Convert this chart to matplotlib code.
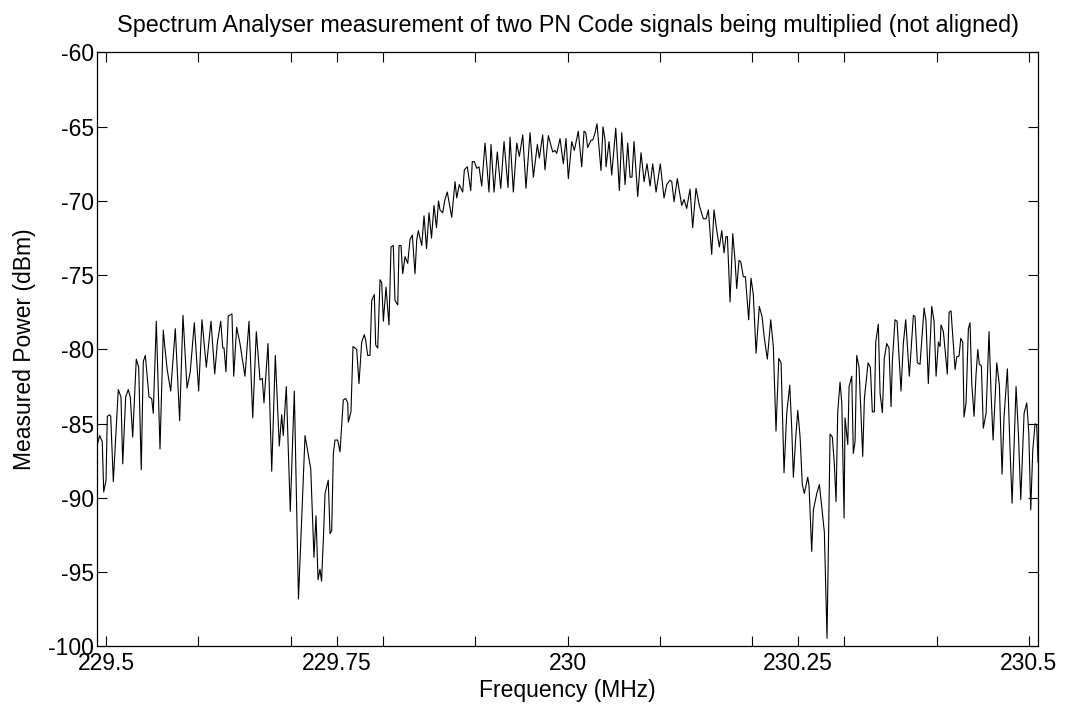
import matplotlib
matplotlib.use("Agg")
import matplotlib.pyplot as plt

plt.rcParams['font.family'] = ['Liberation Sans', 'DejaVu Sans']

# trace vertices
freq_mhz = [
    229.4900, 229.4929, 229.4957, 229.4973, 229.4998, 229.5012, 229.5038, 229.5049, 229.5077, 229.5131,
    229.5160, 229.5179, 229.5211, 229.5239, 229.5261, 229.5287, 229.5326, 229.5352, 229.5380, 229.5402,
    229.5424, 229.5464, 229.5493, 229.5510, 229.5543, 229.5583, 229.5619, 229.5630, 229.5662, 229.5699,
    229.5749, 229.5796, 229.5832, 229.5876, 229.5911, 229.5955, 229.6002, 229.6038, 229.6085, 229.6136,
    229.6176, 229.6204, 229.6241, 229.6263, 229.6277, 229.6298, 229.6323, 229.6363, 229.6382, 229.6414,
    229.6450, 229.6504, 229.6548, 229.6588, 229.6627, 229.6667, 229.6692, 229.6710, 229.6754, 229.6794,
    229.6833, 229.6876, 229.6902, 229.6919, 229.6952, 229.6995, 229.7039, 229.7084, 229.7155, 229.7217,
    229.7252, 229.7274, 229.7296, 229.7317, 229.7334, 229.7355, 229.7372, 229.7407, 229.7426, 229.7444,
    229.7462, 229.7480, 229.7509, 229.7534, 229.7570, 229.7596, 229.7618, 229.7624, 229.7653, 229.7675,
    229.7715, 229.7740, 229.7769, 229.7798, 229.7813, 229.7834, 229.7859, 229.7878, 229.7906, 229.7921,
    229.7943, 229.7968, 229.7986, 229.8004, 229.8033, 229.8065, 229.8087, 229.8112, 229.8130, 229.8160,
    229.8174, 229.8195, 229.8214, 229.8239, 229.8268, 229.8293, 229.8318, 229.8347, 229.8366, 229.8383,
    229.8420, 229.8445, 229.8472, 229.8499, 229.8526, 229.8553, 229.8580, 229.8602, 229.8618, 229.8647,
    229.8672, 229.8697, 229.8745, 229.8781, 229.8799, 229.8827, 229.8864, 229.8882, 229.8914, 229.8951,
    229.8968, 229.8990, 229.9016, 229.9041, 229.9070, 229.9106, 229.9149, 229.9171, 229.9204, 229.9239,
    229.9276, 229.9312, 229.9355, 229.9377, 229.9413, 229.9450, 229.9478, 229.9515, 229.9550, 229.9594,
    229.9630, 229.9673, 229.9695, 229.9731, 229.9756, 229.9792, 229.9840, 229.9865, 229.9883, 229.9919,
    229.9955, 229.9984, 230.0009, 230.0046, 230.0074, 230.0117, 230.0154, 230.0179, 230.0198, 230.0219,
    230.0255, 230.0273, 230.0298, 230.0320, 230.0363, 230.0385, 230.0407, 230.0418, 230.0450, 230.0479,
    230.0523, 230.0562, 230.0588, 230.0624, 230.0653, 230.0678, 230.0699, 230.0721, 230.0761, 230.0797,
    230.0830, 230.0862, 230.0895, 230.0924, 230.0960, 230.1006, 230.1046, 230.1076, 230.1111, 230.1130,
    230.1155, 230.1190, 230.1238, 230.1263, 230.1292, 230.1328, 230.1357, 230.1393, 230.1429, 230.1472,
    230.1502, 230.1527, 230.1563, 230.1588, 230.1618, 230.1646, 230.1672, 230.1697, 230.1718, 230.1733,
    230.1762, 230.1791, 230.1816, 230.1834, 230.1859, 230.1878, 230.1906, 230.1928, 230.1964, 230.1989,
    230.2014, 230.2044, 230.2079, 230.2109, 230.2134, 230.2166, 230.2203, 230.2231, 230.2260, 230.2290,
    230.2315, 230.2347, 230.2376, 230.2409, 230.2431, 230.2448, 230.2474, 230.2496, 230.2521, 230.2545,
    230.2567, 230.2604, 230.2618, 230.2647, 230.2665, 230.2702, 230.2730, 230.2756, 230.2784, 230.2813,
    230.2846, 230.2871, 230.2892, 230.2911, 230.2929, 230.2954, 230.2973, 230.2998, 230.3008, 230.3038,
    230.3052, 230.3081, 230.3098, 230.3117, 230.3135, 230.3160, 230.3200, 230.3218, 230.3258, 230.3283,
    230.3304, 230.3326, 230.3341, 230.3369, 230.3388, 230.3413, 230.3434, 230.3460, 230.3485, 230.3507,
    230.3521, 230.3550, 230.3572, 230.3615, 230.3640, 230.3666, 230.3705, 230.3749, 230.3767, 230.3792,
    230.3821, 230.3865, 230.3886, 230.3911, 230.3948, 230.3973, 230.3995, 230.4020, 230.4038, 230.4049,
    230.4074, 230.4117, 230.4136, 230.4157, 230.4201, 230.4219, 230.4244, 230.4263, 230.4284, 230.4298,
    230.4320, 230.4345, 230.4363, 230.4382, 230.4407, 230.4428, 230.4447, 230.4464, 230.4486, 230.4507,
    230.4537, 230.4569, 230.4591, 230.4613, 230.4653, 230.4681, 230.4710, 230.4732, 230.4768, 230.4797,
    230.4819, 230.4862, 230.4887, 230.4913, 230.4949, 230.4978, 230.5000, 230.5021, 230.5043, 230.5068,
    230.5086, 230.5100,
]

power_dbm = [
    -86.5, -85.8, -86.2, -89.6, -88.8, -84.5, -84.4, -84.5, -88.9, -82.7,
    -83.2, -87.7, -83.2, -82.7, -83.2, -85.9, -80.65, -81.2, -88.1, -80.8,
    -80.4, -83.2, -83.3, -84.3, -78.1, -86.7, -78.7, -79.5, -81.4, -82.8,
    -78.6, -84.8, -77.7, -82.6, -81.5, -78.2, -82.8, -78.0, -81.2, -78.1,
    -81.65, -79.6, -78.1, -79.9, -79.9, -81.5, -77.75, -77.6, -81.8, -78.5,
    -79.6, -81.8, -78.1, -84.6, -78.8, -82.05, -81.95, -83.6, -79.6, -88.2,
    -80.4, -86.5, -84.4, -85.8, -82.5, -90.9, -82.8, -96.8, -85.8, -88.05,
    -94.0, -91.2, -95.5, -94.8, -95.6, -92.6, -89.7, -88.8, -92.4, -92.2,
    -87.0, -86.1, -86.1, -86.9, -83.4, -83.3, -83.6, -84.9, -84.2, -79.8,
    -80.0, -82.3, -79.5, -79.0, -79.4, -80.4, -80.4, -76.7, -76.3, -79.7,
    -79.9, -75.3, -75.5, -78.1, -75.8, -78.35, -73.1, -73.0, -76.7, -77.0,
    -73.0, -73.0, -74.9, -73.75, -74.2, -72.6, -72.3, -74.9, -72.6, -72.0,
    -73.0, -71.0, -73.2, -70.8, -72.5, -70.3, -71.8, -70.0, -70.6, -70.8,
    -69.9, -69.4, -71.1, -68.7, -69.8, -68.9, -69.4, -67.9, -67.7, -69.3,
    -67.35, -67.35, -67.8, -67.7, -69.0, -66.1, -69.4, -66.2, -69.4, -66.7,
    -69.15, -66.0, -69.1, -65.7, -69.4, -66.1, -67.0, -65.55, -69.15, -65.4,
    -68.4, -66.2, -67.1, -65.55, -67.9, -65.6, -66.7, -66.6, -66.8, -65.8,
    -67.5, -65.8, -68.5, -66.0, -66.6, -65.3, -67.7, -65.3, -65.4, -66.4,
    -65.9, -65.9, -65.45, -64.8, -67.95, -65.0, -65.9, -67.7, -66.0, -68.25,
    -65.1, -69.3, -65.4, -68.9, -66.1, -68.4, -68.4, -66.0, -69.7, -66.75,
    -68.7, -67.5, -69.0, -67.5, -69.4, -67.5, -69.8, -68.9, -68.6, -68.7,
    -70.05, -68.5, -70.3, -69.9, -70.5, -69.2, -71.8, -69.15, -70.3, -71.2,
    -71.2, -70.6, -73.6, -70.6, -72.0, -73.1, -72.0, -73.5, -72.4, -72.4,
    -76.8, -72.2, -74.0, -75.9, -74.0, -74.1, -75.1, -75.1, -78.0, -75.2,
    -76.3, -80.25, -77.1, -77.8, -79.25, -80.65, -78.0, -79.8, -85.5, -80.6,
    -80.9, -88.3, -84.3, -82.4, -85.4, -88.6, -85.9, -84.1, -85.9, -89.1,
    -89.7, -88.6, -89.2, -93.6, -90.8, -89.7, -89.1, -90.6, -92.3, -99.45,
    -85.7, -85.9, -87.7, -90.25, -84.2, -82.2, -83.6, -91.35, -84.6, -86.4,
    -82.5, -81.8, -87.0, -86.2, -80.4, -81.2, -87.2, -83.3, -80.9, -81.2,
    -84.2, -84.2, -79.5, -78.3, -82.95, -84.25, -80.6, -79.6, -79.9, -83.85,
    -80.8, -78.0, -78.1, -82.8, -79.6, -78.0, -81.8, -77.7, -77.8, -80.9,
    -81.0, -77.2, -78.1, -82.3, -77.1, -78.1, -81.8, -79.5, -79.8, -78.35,
    -78.8, -81.65, -77.5, -77.4, -81.35, -80.5, -80.45, -79.25, -79.5, -84.55,
    -83.6, -78.6, -78.2, -82.3, -84.5, -81.7, -80.0, -81.0, -81.1, -85.3,
    -84.3, -78.8, -82.95, -86.1, -80.9, -82.4, -88.4, -84.5, -81.3, -86.8,
    -90.35, -82.5, -85.6, -90.1, -84.3, -83.6, -85.6, -90.8, -86.8, -85.0,
    -85.1, -87.6,
]

xtick_vals = [229.5, 229.6, 229.7, 229.75, 229.8, 229.9, 230.0, 230.1, 230.2, 230.25, 230.3, 230.4, 230.5]
xtick_labels = ['229.5', '', '', '229.75', '', '', '230', '', '', '230.25', '', '', '230.5']
ytick_vals = [-100, -95, -90, -85, -80, -75, -70, -65, -60]

fig = plt.figure(figsize=(10.74, 7.06), dpi=100)
ax = fig.add_axes([0.0903, 0.0843, 0.8762, 0.8414])
ax.plot(freq_mhz, power_dbm, color='black', linewidth=0.8)

ax.set_xlim(229.49, 230.51)
ax.set_ylim(-100, -60)
ax.set_xticks(xtick_vals)
ax.set_xticklabels(xtick_labels)
ax.set_yticks(ytick_vals)
ax.set_yticklabels([str(v) for v in ytick_vals])
ax.tick_params(direction='in', length=7, width=0.8, labelsize=16.5,
               top=True, right=True)
ax.tick_params(axis='x', pad=4)
ax.tick_params(axis='y', pad=2)
for s in ax.spines.values():
    s.set_linewidth(0.9)

ax.set_title('Spectrum Analyser measurement of two PN Code signals being multiplied (not aligned)',
             fontsize=16.8, pad=15)
ax.set_xlabel('Frequency (MHz)', fontsize=16.5, labelpad=3)
ax.set_ylabel('Measured Power (dBm)', fontsize=16.5, labelpad=9)

fig.savefig('out.png', dpi=100)
